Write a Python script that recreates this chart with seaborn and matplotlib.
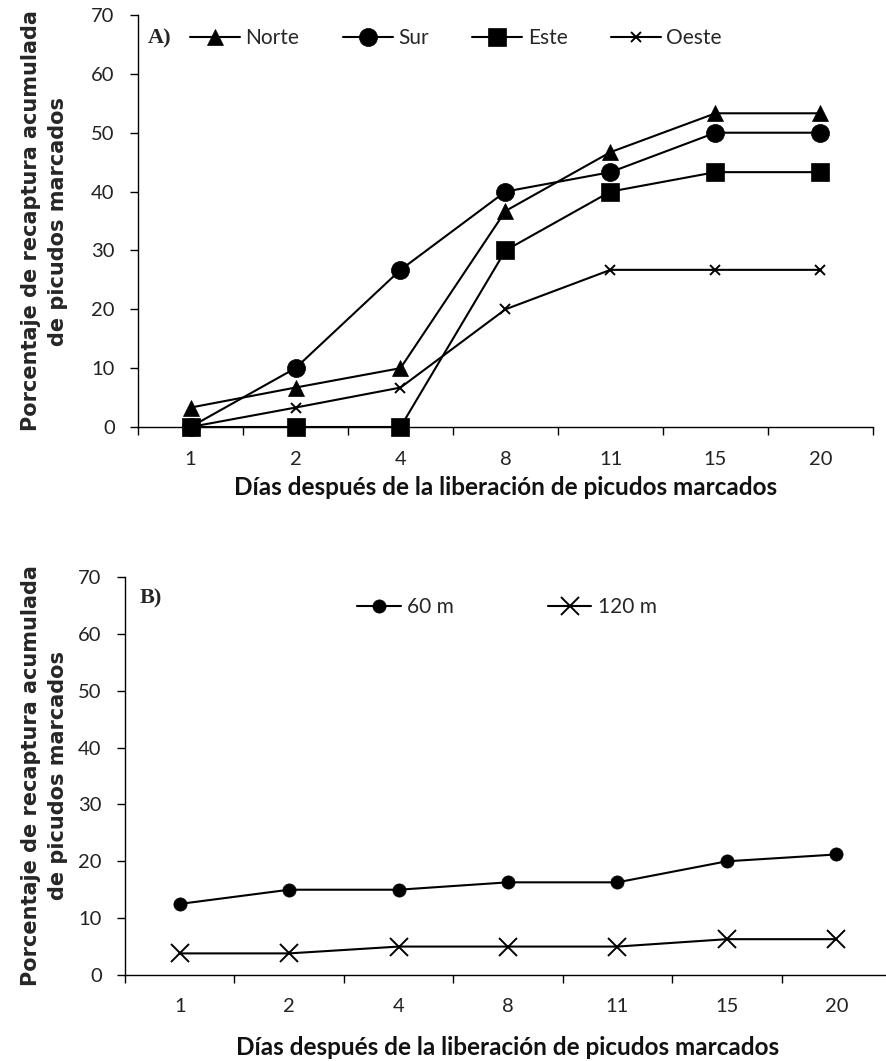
import matplotlib
matplotlib.use("Agg")
import matplotlib.pyplot as plt
import seaborn as sns
from matplotlib.ticker import FixedLocator, NullFormatter

sns.set_style("white")
plt.rcParams['font.family'] = ['Lato', 'DejaVu Sans']

dias = ["1", "2", "4", "8", "11", "15", "20"]
norte = [3.3, 6.7, 10.0, 36.7, 46.7, 53.3, 53.3]
sur = [0.0, 10.0, 26.7, 40.0, 43.3, 50.0, 50.0]
este = [0.0, 0.0, 0.0, 30.0, 40.0, 43.3, 43.3]
oeste = [0.0, 3.3, 6.7, 20.0, 26.7, 26.7, 26.7]
m60 = [12.5, 15.0, 15.0, 16.3, 16.3, 20.0, 21.2]
m120 = [3.8, 3.8, 5.0, 5.0, 5.0, 6.3, 6.3]

ylabel = "Porcentaje de recaptura acumulada\nde picudos marcados"
xlabel = "Días después de la liberación de picudos marcados"

W, H = 887, 1061
fig = plt.figure(figsize=(W / 100, H / 100), dpi=100)

def px_axes(l, r, t, b):
    return fig.add_axes([l / W, 1 - b / H, (r - l) / W, (b - t) / H])

axA = px_axes(138, 873, 15, 427)
axB = px_axes(125, 891, 577, 975)

def style(ax, xpad):
    ax.set_xlim(-0.5, 6.5)
    ax.set_ylim(0, 70)
    ax.xaxis.set_major_locator(FixedLocator([i - 0.5 for i in range(8)]))
    ax.xaxis.set_major_formatter(NullFormatter())
    ax.xaxis.set_minor_locator(FixedLocator(list(range(7))))
    ax.set_xticklabels(dias, minor=True)
    ax.tick_params(axis='x', which='major', length=5.8, width=1, direction='out', bottom=True, color='black')
    ax.tick_params(axis='x', which='minor', length=0, pad=xpad, labelsize=14.5, bottom=True,
                   labelcolor='#222222')
    ax.set_yticks(range(0, 71, 10))
    ax.tick_params(axis='y', length=5.8, width=1, direction='out', left=True, labelsize=14.5, pad=11,
                   color='black', labelcolor='#222222')
    for s in ['top', 'right']:
        ax.spines[s].set_visible(False)
    for s in ['left', 'bottom']:
        ax.spines[s].set_color('black')
        ax.spines[s].set_linewidth(1)
        ax.spines[s].set_clip_on(False)

def draw(ax, series):
    for name, vals, mk, ms in series:
        sns.lineplot(x=list(range(7)), y=vals, ax=ax, color='black', marker=mk, markersize=ms,
                     linewidth=1.5, markeredgecolor='black',
                     markeredgewidth=1.4 if mk == 'x' else 0.5, label=name, clip_on=False)

seriesA = [("Norte", norte, "^", 12), ("Sur", sur, "o", 13), ("Este", este, "s", 12.5), ("Oeste", oeste, "x", 7.5)]
draw(axA, seriesA)
style(axA, 17)

seriesB = [("60 m", m60, "o", 9.5), ("120 m", m120, "x", 12.5)]
draw(axB, seriesB)
style(axB, 16.5)

# axis labels
for ax, left, width in ((axA, 138, 735), (axB, 125, 766)):
    ax.set_ylabel(ylabel, fontsize=15, fontweight='bold', family='DejaVu Sans', linespacing=1.45)
    ax.yaxis.set_label_coords((68 - left) / width, 0.5)
axA.set_xlabel(xlabel, fontsize=17.5, fontweight='bold', color='#111111')
axA.xaxis.set_label_coords(0.5, (427 - 476) / 412)
axB.set_xlabel(xlabel, fontsize=17.5, fontweight='bold', color='#111111')
axB.xaxis.set_label_coords(0.5, (975 - 1036) / 398)

# legends
fig.legend(*axA.get_legend_handles_labels(), loc='center left',
           bbox_to_anchor=(190 / W, 1 - 38 / H), bbox_transform=fig.transFigure,
           ncol=4, frameon=False, fontsize=15, handlelength=2.4, handletextpad=0.25,
           columnspacing=2.1, borderpad=0, borderaxespad=0)
axA.get_legend().remove()
fig.legend(*axB.get_legend_handles_labels(), loc='center left',
           bbox_to_anchor=(357 / W, 1 - 607 / H), bbox_transform=fig.transFigure,
           ncol=2, frameon=False, fontsize=15, handlelength=2.1, handletextpad=0.3,
           columnspacing=4.5, borderpad=0, borderaxespad=0)
axB.get_legend().remove()

fig.text(148 / W, 1 - 38 / H, "A)", fontsize=16, fontweight='bold', family='Liberation Serif',
         va='center', ha='left')
fig.text(140 / W, 1 - 598 / H, "B)", fontsize=16, fontweight='bold', family='Liberation Serif',
         va='center', ha='left')

fig.savefig("out.png", dpi=100)
